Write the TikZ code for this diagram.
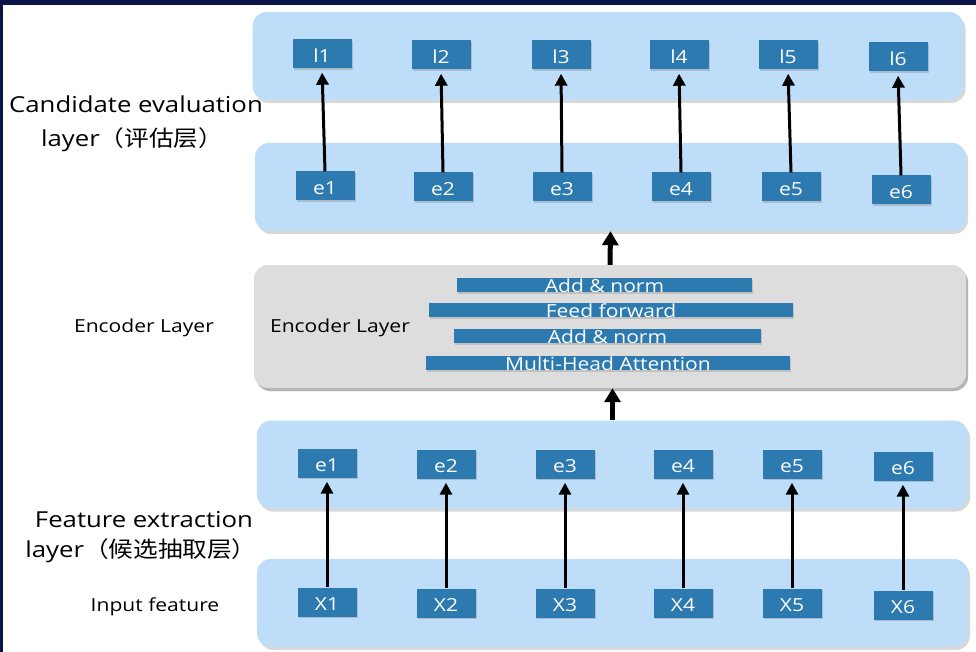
\documentclass[tikz,border=0pt]{standalone}
\usepackage{fontspec}
\setmainfont{Open Sans}[FakeStretch=1.17]
\newfontfamily\cjk{Noto Sans CJK SC}[FakeStretch=1.12]
\usetikzlibrary{arrows.meta,shadows}
\definecolor{navy}{HTML}{0A1446}
\definecolor{panelblue}{HTML}{BEDDF8}
\definecolor{boxblue}{HTML}{2C7AAF}
\definecolor{panelgray}{HTML}{DDDDDD}
\begin{document}
\begin{tikzpicture}[x=1pt,y=-1pt,
  panel/.style={fill=panelblue, rounded corners=14pt, draw=none, inner sep=0pt,
    minimum width=711pt, minimum height=88pt,
    drop shadow={shadow xshift=2pt,shadow yshift=-3pt,opacity=0.3}},
  graypanel/.style={panel, fill=panelgray, minimum width=712pt, minimum height=123pt,
    drop shadow={shadow xshift=2pt,shadow yshift=-3pt,opacity=0.4}},
  cell/.style={fill=boxblue, minimum width=59pt, minimum height=29pt, inner sep=0pt,
    text=white, font=\fontsize{18}{20}\selectfont, text height=17pt, text depth=0pt,
    drop shadow={shadow xshift=1pt,shadow yshift=-1.5pt,opacity=0.35}},
  bar/.style={fill=boxblue, minimum height=14pt, inner sep=0pt,
    text=white, font=\fontsize{18}{20}\selectfont, text height=14pt, text depth=0pt,
    drop shadow={shadow xshift=1pt,shadow yshift=-1.5pt,opacity=0.3}},
  lbl/.style={inner sep=0pt, anchor=base, font=\fontsize{22}{26}\selectfont},
  lblsmall/.style={inner sep=0pt, anchor=base, font=\fontsize{18}{22}\selectfont},
  arr/.style={-{Triangle[width=12pt,length=12pt]}, line width=3pt, shorten >=4pt},
  bigarr/.style={-{Triangle[width=16pt,length=14pt]}, line width=5pt}]
\useasboundingbox (0,0) rectangle (976,652);
\fill[white] (0,0) rectangle (976,652);
\fill[navy] (0,0) rectangle (976,5);
\fill[navy] (0,0) rectangle (3,652);

% panels
\node[panel] (P1) at (608,56) {};
\node[panel] (P2) at (610.5,187) {};
\node[graypanel] (P3) at (610,326.5) {};
\node[panel] (P4) at (612.5,464.5) {};
\node[panel] (P5) at (612.5,603) {};

% encoder bars
\node[bar, minimum width=295pt] (b1) at (604.5,285) {Add \& norm};
\node[bar, minimum width=364pt] (b2) at (611,310) {Feed forward};
\node[bar, minimum width=307pt] (b3) at (607.5,336) {Add \& norm};
\node[bar, minimum width=364pt] (b4) at (608,363) {Multi-Head Attention};

% cells
\foreach \i/\x/\y in {1/322/54,2/441/55,3/561/55,4/679/55,5/788/55,6/898/57}
  \node[cell] (l\i) at (\x,\y) {l\i};
\foreach \i/\x/\y in {1/325/186,2/443/187,3/562/187,4/681/187,5/791/187,6/901/190}
  \node[cell] (eu\i) at (\x,\y) {e\i};
\foreach \i/\x/\y in {1/327/463,2/446/464,3/565/464,4/683/464,5/792/464,6/903/466}
  \node[cell] (ed\i) at (\x,\y) {e\i};
\foreach \i/\x/\y in {1/327/602,2/446/603,3/565/603,4/683/603,5/792/603,6/903/605}
  \node[cell] (x\i) at (\x,\y) {X\i};

% arrows
\foreach \i in {1,...,6} {
  \draw[arr] (eu\i.north) -- (l\i.south);
  \draw[arr] (x\i.north) -- (ed\i.south);
}
\draw[bigarr] (P3.north) -- (P2.south);
\draw[bigarr] (P4.north) -- (P4.north |- P3.south);

% labels
\node[lbl] (cand1) at (136,113) {Candidate evaluation};
\node[lbl] (cand2) at (132,146.7) {layer{\cjk （评估层）}};
\node[lbl] (feat1) at (144,527) {Feature extraction};
\node[lbl] (feat2) at (141,557) {layer{\cjk （候选抽取层）}};
\node[lblsmall] (inp) at (155,611) {Input feature};
\node[lblsmall] (encl) at (144,332) {Encoder Layer};
\node[lblsmall] (enci) at (340,332) {Encoder Layer};
\end{tikzpicture}
\end{document}
